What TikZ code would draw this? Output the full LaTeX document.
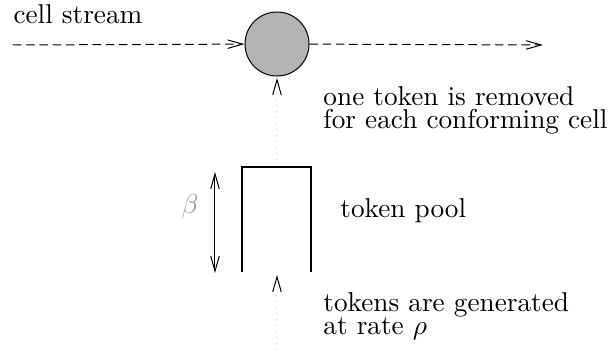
\documentclass[tikz,border=0pt]{standalone}
\usetikzlibrary{arrows.meta}
\definecolor{meterfill}{RGB}{179,179,179}
\begin{document}
\begin{tikzpicture}[x=0.4pt, y=-0.4pt, line width=0.4pt,
    >={Straight Barb[length=6pt,width=3.4pt]},
    font=\fontsize{10.9}{9.4}\selectfont]

    \useasboundingbox (0,0) rectangle (609,353);

    % Meter
    \node[circle, draw, fill=meterfill, minimum size=25.6pt, inner sep=0pt] (meter) at (277,44) {};

    % Cell stream
    \coordinate (in) at (13,45);
    \coordinate (out) at (543,45);
    \draw[->, dash pattern=on 3.4pt off 1.9pt] (in) -- (meter);
    \draw[->, dash pattern=on 3.4pt off 1.9pt] (meter) -- (out);
    \node[anchor=base west, inner sep=0pt] (streamlabel) at (13,24) {cell stream};

    % Token removal
    \coordinate (taketip) at (277,78);
    \coordinate (takefoot) at (277,160);
    \draw[gray!40, dash pattern=on 0.4pt off 2pt, -{Straight Barb[length=6pt,width=3.4pt,color=black]}] (takefoot) -- (taketip);
    \node[anchor=base west, align=left, inner sep=0pt] (takelabel) at (323,129) {one token is removed\\for each conforming cell};

    % Token pool
    \coordinate (poolbl) at (242,272);
    \coordinate (pooltl) at (242,167);
    \coordinate (pooltr) at (311,167);
    \coordinate (poolbr) at (311,272);
    \draw[line width=0.6pt] (poolbl) -- (pooltl) -- (pooltr) -- (poolbr);
    \node[anchor=base west, inner sep=0pt] (poollabel) at (340,218) {token pool};

    % Pool size
    \coordinate (sizetop) at (215,172);
    \coordinate (sizebot) at (215,273);
    \draw[<->] (sizetop) -- (sizebot);
    \node[gray!80] (sizelabel) at (190,207) {$\beta$};

    % Token generation
    \coordinate (gentip) at (277,275);
    \coordinate (genfoot) at (277,350);
    \draw[gray!40, dash pattern=on 0.4pt off 2pt, -{Straight Barb[length=6pt,width=3.4pt,color=black]}] (genfoot) -- (gentip);
    \node[anchor=base west, align=left, inner sep=0pt] (genlabel) at (323,335) {tokens are generated\\at rate $\rho$};

\end{tikzpicture}
\end{document}
